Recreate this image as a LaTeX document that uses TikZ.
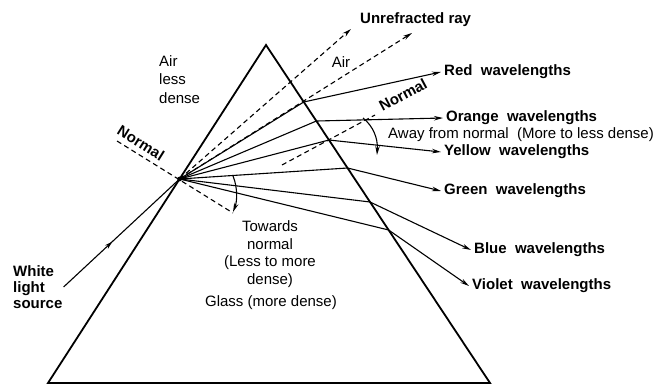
\documentclass[tikz,border=0pt]{standalone}
\usepackage{fontspec}
\setmainfont{Liberation Sans}
\usetikzlibrary{arrows.meta,calc,decorations.markings}
\begin{document}
\begin{tikzpicture}[x=1pt,y=-1pt,
  prism/.style={line width=1.8pt, line join=miter},
  ray/.style={line width=1.1pt},
  tip/.style={-{Stealth[length=9pt,width=4.5pt]}},
  dray/.style={line width=1.1pt, dash pattern=on 5pt off 3.5pt},
  lbl/.style={font=\fontsize{15}{18}\selectfont\bfseries, inner xsep=3pt, inner ysep=0pt},
  txt/.style={font=\fontsize{15}{18.5}\selectfont, inner sep=0pt},
]
\useasboundingbox (0,0) rectangle (660,385);
\fill[white] (0,0) rectangle (660,385);
% prism
\coordinate (A) at (266,45);
\coordinate (BL) at (48,383);
\coordinate (BR) at (490,383);
\draw[prism] (BL) -- (A) -- (BR) -- cycle;
% incident point and exit points
\coordinate (I) at ($(A)!0.3964!(BL)$);
\coordinate (eR) at ($(A)!0.1686!(BR)$);
\coordinate (eO) at ($(A)!0.2249!(BR)$);
\coordinate (eY) at ($(A)!0.2811!(BR)$);
\coordinate (eG) at ($(A)!0.3639!(BR)$);
\coordinate (eB) at ($(A)!0.4645!(BR)$);
\coordinate (eV) at ($(A)!0.5473!(BR)$);
% labels
\node[lbl, anchor=west] (lR) at (441,72) {Red\ \ wavelengths};
\node[lbl, anchor=west] (lO) at (443,118) {Orange\ \ wavelengths};
\node[lbl, anchor=west] (lY) at (441,152) {Yellow\ \ wavelengths};
\node[lbl, anchor=west] (lG) at (441,191) {Green\ \ wavelengths};
\node[lbl, anchor=west] (lB) at (471,250) {Blue\ \ wavelengths};
\node[lbl, anchor=west] (lV) at (469,286) {Violet\ \ wavelengths};
\node[lbl, anchor=west] (lU) at (357,20) {Unrefracted ray};
% rays inside
\foreach \e in {eR,eO,eY,eG,eB,eV} \draw[ray] (I) -- (\e);
% rays outside
\draw[ray,tip] (eR) -- (lR.west);
\draw[ray,tip] (eO) -- (lO.west);
\draw[ray,tip] (eY) -- (lY.west);
\draw[ray,tip] (eG) -- (lG.west);
\draw[ray,tip] (eB) -- (lB.west);
\draw[ray,tip] (eV) -- (lV.west);
% dashed rays
\coordinate (uT) at (351,29);
\coordinate (dT) at (412,33);
\draw[dray,tip] (I) -- (uT);
\draw[dray,tip] (I) -- (dT);
% normals
\coordinate (nL1) at (117,141);
\coordinate (nL2) at (233,213);
\draw[dray] (nL1) -- (nL2);
\node[lbl, inner sep=0pt, rotate=-32] (nLl) at (141,143) {Normal};
\coordinate (nR1) at (282,165);
\coordinate (nR2) at (375,115);
\draw[dray] (nR1) -- (nR2);
\node[lbl, inner sep=0pt, rotate=28] (nRl) at (403,95) {Normal};
% white light source
\node[lbl, inner sep=0pt, anchor=west, align=left, font=\fontsize{15}{16}\selectfont\bfseries] (src) at (13,287) {White\\light\\source};
\draw[ray, decoration={markings, mark=at position 0.42 with {\arrow{Stealth[length=8pt,width=4.5pt]}}}, postaction={decorate}] ($(src.east)+(1,0)$) -- (I);
\fill (I) circle (2.4);
% arcs
\coordinate (aw1) at (363,118);
\coordinate (aw2) at (377,155);
\draw[ray,tip] (aw1) .. controls (373,126) and (378,138) .. (aw2);
\coordinate (tw1) at (233,176);
\coordinate (tw2) at (233,212);
\draw[ray,tip] (tw1) .. controls (238,188) and (237,202) .. (tw2);
% texts
\node[txt, anchor=west, align=left] (airL) at (159,79.5) {Air\\less\\dense};
\node[txt] (airR) at (341,62) {Air};
\node[txt, anchor=west] (away) at (388,135) {Away from normal\ \ (More to less dense)};
\node[txt, align=center, font=\fontsize{15}{17.7}\selectfont] (tow) at (270,254) {Towards\\normal\\(Less to more\\dense)};
\node[txt] (glass) at (271,303) {Glass (more dense)};
\end{tikzpicture}
\end{document}
